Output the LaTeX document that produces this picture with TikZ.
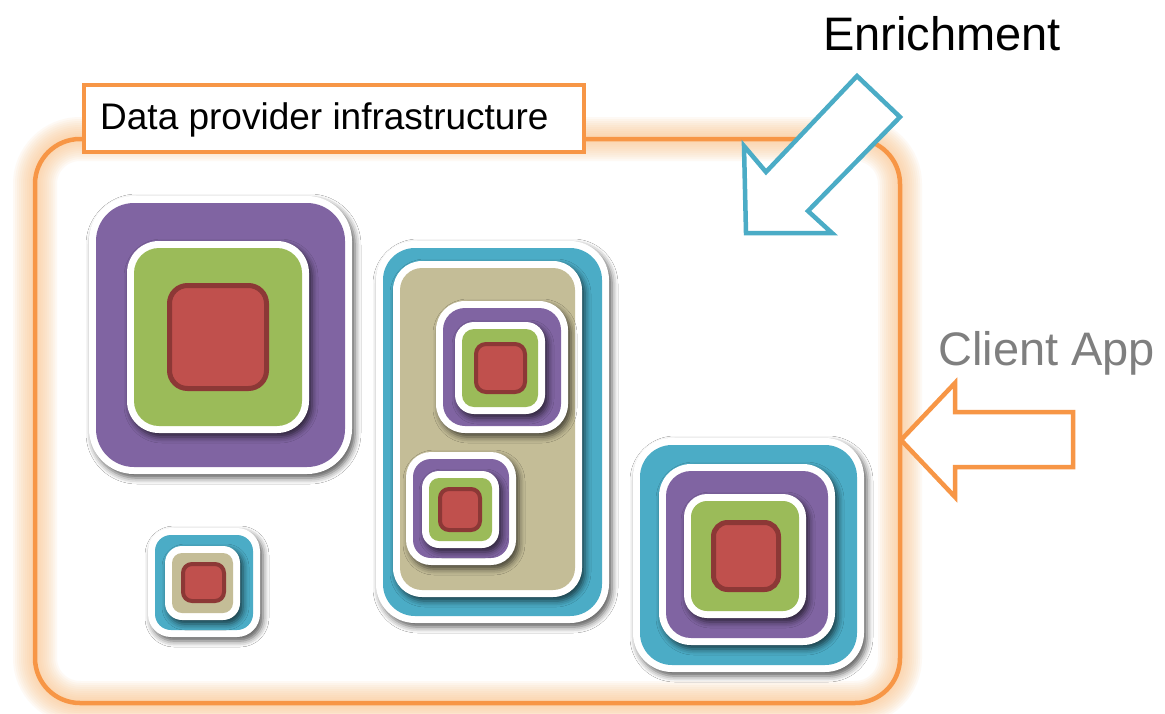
\documentclass[tikz,border=0pt]{standalone}
\usepackage{fontspec}
\setmainfont{Liberation Sans}
\usetikzlibrary{shadows.blur}

\definecolor{frameorange}{HTML}{F79646}
\definecolor{glowc}{HTML}{FBC48A}
\definecolor{tealc}{HTML}{4BACC6}
\definecolor{purplec}{HTML}{8064A2}
\definecolor{greenc}{HTML}{9BBB59}
\definecolor{redc}{HTML}{C0504D}
\definecolor{redrim}{HTML}{8C3836}
\definecolor{tanc}{HTML}{C4BD97}
\definecolor{labelgray}{HTML}{7F7F7F}

\tikzset{
  tileshadow/.style={blur shadow={shadow xshift=3pt, shadow yshift=-4pt,
      shadow blur radius=6pt, shadow opacity=65}},
  labelbox/.style={draw=frameorange, line width=4pt, fill=white, inner sep=0pt},
  bigtext/.style={font=\fontsize{47}{56}\selectfont, inner sep=0pt, anchor=base west},
  arrowshape/.style={line width=4.5pt, fill=white, line join=miter},
}

% coloured rounded square with a white rim and a soft shadow
% #1,#2 = top-left, #3,#4 = bottom-right of the coloured area, #5 colour, #6 radius
\newcommand\tile[6]{%
  \pgfmathsetmacro\rimradius{#6+7}%
  \fill[white, rounded corners=\rimradius pt, tileshadow] (#1-7,#2-7) rectangle (#3+7,#4+7);
  \fill[#5, rounded corners=#6pt] (#1,#2) rectangle (#3,#4);
}
% red core with a dark rim; #5 radius, #6 rim width
\newcommand\core[6]{%
  \pgfmathsetmacro\halfrim{#6/2}%
  \filldraw[fill=redc, draw=redrim, line width=#6pt, rounded corners=#5pt]
    (#1+\halfrim,#2+\halfrim) rectangle (#3-\halfrim,#4-\halfrim);
}

\begin{document}
\begin{tikzpicture}[x=1pt, y=-1pt]
\useasboundingbox[fill=white] (0,0) rectangle (1165,713);

% glowing infrastructure frame: many thin translucent strokes for a soft halo
\foreach \w in {44,40,...,8}
  \draw[glowc, line width=\w pt, opacity=0.09, rounded corners=45pt] (35,139) rectangle (900,703);
\draw[frameorange, line width=4.5pt, rounded corners=45pt] (35,139) rectangle (900,703);

% title tab
\node[labelbox, minimum width=500pt, minimum height=67pt, anchor=north west] (tab) at (82,83) {};
\node[font=\fontsize{37}{44}\selectfont, inner sep=0pt, anchor=base west] (tabtext) at (100,129) {Data provider infrastructure};

% purple stack, top left
\tile{96}{203}{345}{467}{purplec}{38}
\tile{134}{248}{302}{426}{greenc}{25}
\core{167}{283}{269}{391}{18}{5}

% small teal stack, bottom left
\tile{155}{535}{253}{630}{tealc}{16}
\tile{172}{553}{233}{613}{tanc}{10}
\core{181}{562}{226}{603}{9}{4}

% tall teal stack with two nested stacks
\tile{383}{248}{602}{616}{tealc}{32}
\tile{400}{268}{575}{590}{tanc}{22}
\tile{443}{308}{561}{426}{purplec}{22}
\tile{462}{329}{538}{407}{greenc}{12}
\core{474}{342}{527}{394}{10}{4}
\tile{413}{459}{509}{558}{purplec}{18}
\tile{429}{478}{492}{541}{greenc}{10}
\core{438}{487}{482}{532}{9}{4}

% teal stack, bottom right
\tile{640}{445}{857}{665}{tealc}{32}
\tile{666}{471}{828}{638}{purplec}{25}
\tile{691}{501}{799}{611}{greenc}{16}
\core{711}{520}{781}{592}{14}{5}

% enrichment arrow
\draw[arrowshape, draw=tealc] (746,233) -- (744,146) -- (766,172) -- (857,76)
  -- (900,117) -- (808,211) -- (832,233) -- cycle;
\node[bigtext] (enrich) at (823,50) {Enrichment};

% client app arrow
\draw[arrowshape, draw=frameorange] (901,440) -- (955,383) -- (955,412) -- (1073,412)
  -- (1073,467) -- (955,467) -- (955,497) -- cycle;
\node[bigtext, text=labelgray] (client) at (938,365) {Client App};
\end{tikzpicture}
\end{document}
